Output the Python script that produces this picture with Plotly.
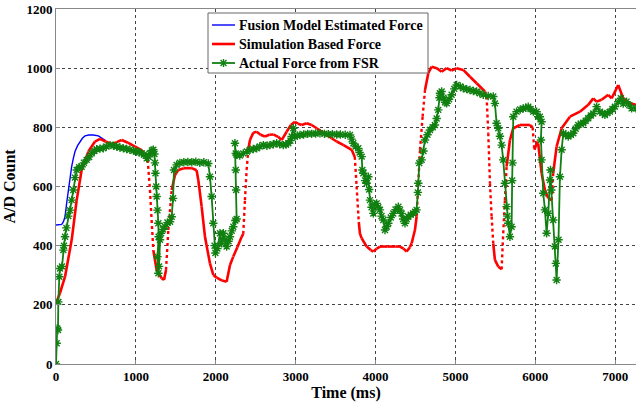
import plotly.graph_objects as go

# ---- data ----
fusion_t = [0, 40, 71, 92, 113, 134, 154, 175, 196, 217, 238, 270, 300, 330, 363, 410, 467, 530, 592, 620]
fusion_f = [470, 470, 472, 480, 498, 545, 588, 630, 667, 695, 718, 738, 752, 763, 771, 774, 774, 771, 760, 755]

sim_t = [0, 50, 113, 196, 259, 321, 405, 488, 551, 620, 697, 760, 822, 900, 989, 1072, 1148,
         1176, 1218, 1260, 1322, 1352, 1377, 1406, 1448, 1489, 1531, 1600, 1700, 1760, 1781, 1823,
         1865, 1927, 1969, 2011, 2080, 2136, 2178, 2219, 2270, 2324, 2344, 2365, 2386, 2407, 2428,
         2470, 2512, 2560, 2616, 2670, 2720, 2780, 2825, 2887, 2940, 2991, 3030, 3075, 3138, 3200,
         3263, 3330, 3388, 3450, 3513, 3600, 3701, 3740, 3763, 3790, 3805, 3826, 3889, 3940, 3972,
         4014, 4055, 4150, 4250, 4305, 4350, 4389, 4430, 4452, 4493, 4514, 4535, 4556, 4589, 4619,
         4660, 4702, 4765, 4827, 4890, 4952, 5015, 5098, 5182, 5265, 5369, 5390, 5411, 5432, 5453,
         5473, 5494, 5536, 5578, 5598, 5619, 5640, 5682, 5724, 5807, 5932, 5966, 5987, 6028, 6036,
         6078, 6120, 6162, 6203, 6224, 6266, 6329, 6433, 6558, 6662, 6725, 6767, 6829, 6913, 6955,
         7038, 7100, 7184, 7259]
sim_f = [205, 240, 295, 419, 554, 656, 718, 752, 761, 752, 743, 750, 757, 748, 735, 723, 690,
         588, 385, 318, 290, 284, 318, 453, 588, 639, 656, 662, 662, 655, 622, 532,
         430, 340, 301, 292, 282, 278, 335, 363, 395, 430, 440, 554, 656, 724, 757,
         782, 785, 775, 769, 775, 776, 768, 757, 785, 808, 819, 812, 808, 814, 808,
         797, 785, 774, 763, 752, 740, 724, 700, 600, 480, 440, 425, 397, 385, 380,
         390, 397, 397, 397, 397, 390, 380, 395, 408, 453, 498, 611, 724, 836, 926,
         983, 1005, 1000, 988, 1000, 992, 1000, 994, 971, 949, 921, 904, 780, 611, 498,
         408, 352, 329, 320, 442, 554, 667, 757, 797, 808, 808, 800, 724, 752, 745,
         645, 588, 560, 554, 645, 735, 797, 836, 853, 876, 898, 887, 893, 910, 898,
         943, 898, 881, 876]

fsr_t = [0, 8, 15, 25, 29, 42, 50, 75, 92, 100, 113, 130, 154, 175, 196, 217, 238, 259, 290, 321,
         350, 384, 415, 447, 480, 509, 550, 592, 630, 676, 720, 759, 800, 843, 885, 926, 970, 1010,
         1040, 1072, 1100, 1135, 1160, 1176, 1200, 1218, 1232, 1239, 1245, 1255, 1260, 1270, 1281,
         1285, 1270, 1281, 1290, 1302, 1315, 1340, 1364, 1395, 1427, 1448, 1465, 1477, 1510, 1550,
         1600, 1650, 1700, 1750, 1800, 1850, 1906, 1927, 1948, 1969, 1985, 1995, 2020, 2053, 2070,
         2095, 2115, 2136, 2160, 2178, 2200, 2219, 2245, 2261, 2255, 2250, 2240, 2250, 2261, 2300,
         2344, 2390, 2428, 2470, 2512, 2550, 2595, 2640, 2678, 2720, 2762, 2800, 2845, 2880, 2908,
         2935, 2950, 2970, 2991, 3020, 3054, 3100, 3150, 3200, 3250, 3304, 3360, 3410, 3460, 3513,
         3560, 3620, 3680, 3700, 3721, 3750, 3784, 3800, 3826, 3835, 3847, 3870, 3889, 3910, 3920,
         3930, 3950, 3972, 3990, 4014, 4035, 4055, 4075, 4097, 4118, 4140, 4160, 4190, 4222, 4250,
         4285, 4305, 4326, 4345, 4368, 4390, 4410, 4440, 4472, 4495, 4514, 4530, 4535, 4547, 4577,
         4600, 4619, 4650, 4681, 4715, 4743, 4765, 4785, 4800, 4806, 4827, 4850, 4870, 4890, 4920,
         4952, 4985, 5015, 5060, 5098, 5140, 5182, 5225, 5265, 5305, 5348, 5410, 5473, 5494, 5515,
         5536, 5557, 5578, 5598, 5619, 5640, 5650, 5661, 5682, 5703, 5710, 5715, 5724, 5765, 5810,
         5849, 5880, 5911, 5940, 5974, 6016, 6036, 6057, 6078, 6070, 6078, 6099, 6120, 6141, 6162,
         6183, 6190, 6200, 6224, 6245, 6257, 6266, 6290, 6308, 6329, 6350, 6380, 6412, 6445, 6475,
         6505, 6537, 6570, 6600, 6630, 6662, 6695, 6725, 6767, 6808, 6840, 6871, 6900, 6934, 6965,
         6996, 7038, 7071, 7100, 7142, 7175, 7205, 7259]
fsr_f = [0, 70, 120, 115, 210, 295, 323, 330, 385, 400, 430, 460, 500, 520, 554, 588, 630, 656, 665, 667,
         680, 690, 700, 712, 720, 726, 728, 729, 735, 740, 738, 735, 732, 729, 727, 724, 721, 718,
         716, 712, 708, 695, 700, 712, 722, 724, 710, 680, 645, 600, 566, 520, 476,
         430, 363, 307, 330, 420, 442, 455, 465, 478, 481, 498, 560, 656, 673, 680,
         682, 683, 682, 684, 680, 682, 678, 633, 566, 476, 400, 375, 390, 442, 408,
         442, 420, 397, 415, 430, 450, 464, 485, 490, 588, 656, 746, 712, 707, 705,
         712, 718, 724, 727, 729, 735, 740, 738, 740, 743, 746, 743, 740, 742, 746,
         755, 769, 797, 769, 772, 774, 776, 778, 778, 779, 780, 778, 777, 777, 776,
         776, 775, 774, 760, 746, 735, 729, 715, 701, 656, 645, 620, 611, 633, 590,
         554, 530, 509, 540, 543, 530, 521, 500, 487, 453, 465, 476, 495, 509, 522,
         532, 520, 509, 490, 476, 490, 498, 505, 509, 515, 521, 580, 611, 679, 690,
         720, 757, 775, 791, 800, 808, 830, 859, 900, 915, 921, 900, 885, 881, 895,
         910, 930, 943, 938, 932, 929, 926, 923, 921, 915, 910, 906, 904, 881, 814,
         797, 770, 740, 690, 611, 532, 500, 476, 430, 464, 620, 680, 836, 853, 860,
         864, 866, 870, 862, 853, 853, 836, 836, 819, 757, 690, 577, 521, 442, 509,
         622, 656, 588, 487, 397, 340, 284, 420, 633, 724, 780, 775, 769, 775, 780,
         795, 808, 812, 814, 822, 831, 840, 847, 870, 853, 848, 842, 848, 853, 862,
         870, 887, 898, 880, 887, 875, 864, 864]

series_names = ["Fusion Model Estimated Force", "Simulation Based Force", "Actual Force from FSR"]
x_ticks = [0, 1000, 2000, 3000, 4000, 5000, 6000, 7000]
y_ticks = [0, 200, 400, 600, 800, 1000, 1200]

SERIF = "Liberation Serif"
RED, BLUE, GREEN = "#ff0000", "#0000ff", "#108010"
X_MAX, Y_MAX = 7260, 1200
W, H = 636, 407
ML, MR, MT, MB = 56, 0, 9, 43
PW, PH = W - ML - MR, H - MT - MB

# split the simulation curve: steep stretches were sampled sparsely (dotted look)
solid_x, solid_y, dot_x, dot_y = [], [], [], []
for i in range(len(sim_t) - 1):
    dxp = (sim_t[i + 1] - sim_t[i]) * PW / X_MAX
    dyp = abs(sim_f[i + 1] - sim_f[i]) * PH / Y_MAX
    steep = dyp > 10 * max(dxp, 1e-6)
    tx, ty = (dot_x, dot_y) if steep else (solid_x, solid_y)
    tx += [sim_t[i], sim_t[i + 1], None]
    ty += [sim_f[i], sim_f[i + 1], None]

fig = go.Figure()
fig.add_trace(go.Scatter(x=fusion_t, y=fusion_f, mode="lines", name=series_names[0],
                         showlegend=False, line=dict(color=BLUE, width=1.4)))
fig.add_trace(go.Scatter(x=dot_x, y=dot_y, mode="lines", name=series_names[1],
                         showlegend=False, line=dict(color=RED, width=2.4, dash="dot")))
fig.add_trace(go.Scatter(x=solid_x, y=solid_y, mode="lines", name=series_names[1],
                         showlegend=False, line=dict(color=RED, width=2.6)))
fig.add_trace(go.Scatter(x=fsr_t, y=fsr_f, mode="lines+markers", name=series_names[2],
                         showlegend=False,
                         line=dict(color=GREEN, width=1.8),
                         marker=dict(symbol="asterisk-open", size=7, color=GREEN,
                                     line=dict(color=GREEN, width=1.4))))

axis_common = dict(showline=True, linecolor="#888888", linewidth=1, mirror=True,
                   showgrid=True, gridcolor="#444444", griddash="dot", gridwidth=1,
                   zeroline=False, ticks="inside", ticklen=4, tickcolor="#888888",
                   tickfont=dict(family=SERIF, size=13, color="black", weight="bold"))

fig.update_xaxes(range=[0, X_MAX], tickvals=x_ticks, ticktext=[str(v) for v in x_ticks],
                 title=dict(text="Time (ms)", font=dict(family=SERIF, size=16, color="black", weight="bold"),
                            standoff=4),
                 **axis_common)
fig.update_yaxes(range=[0, Y_MAX], tickvals=y_ticks, ticktext=[str(v) for v in y_ticks],
                 title=dict(text="A/D Count", font=dict(family=SERIF, size=16, color="black", weight="bold"),
                            standoff=6),
                 **axis_common)

# ---- legend box drawn in paper coordinates (MATLAB-style) ----
def px(xp):
    return (xp - ML) / PW

def py(yp):
    return (H - MB - yp) / PH

shapes = [dict(type="rect", xref="paper", yref="paper", x0=px(208), x1=px(428), y0=py(73), y1=py(13),
               fillcolor="white", line=dict(color="#666666", width=1), layer="above")]
rows = [25, 44, 63]
styles = [(BLUE, 1.4), (RED, 2.6), (GREEN, 1.8)]
annotations = []
for name, ry, (col, lw) in zip(series_names, rows, styles):
    shapes.append(dict(type="line", xref="paper", yref="paper", x0=px(212), x1=px(235),
                       y0=py(ry), y1=py(ry), line=dict(color=col, width=lw), layer="above"))
    annotations.append(dict(xref="paper", yref="paper", x=px(237), y=py(ry + 0.5), xanchor="left",
                            yanchor="middle", showarrow=False, text=name,
                            font=dict(family=SERIF, size=14, color="black", weight="bold")))
# asterisk marker on the FSR legend sample
cx, cy = 223.5, rows[2]
for (dx, dy) in [(0, 4), (3, 3), (-3, 3)]:
    shapes.append(dict(type="line", xref="paper", yref="paper", x0=px(cx - dx), x1=px(cx + dx),
                       y0=py(cy - dy), y1=py(cy + dy), line=dict(color=GREEN, width=1.4), layer="above"))

fig.update_layout(
    width=W, height=H,
    margin=dict(l=ML, r=MR, t=MT, b=MB),
    plot_bgcolor="white", paper_bgcolor="white",
    showlegend=False,
    shapes=shapes, annotations=annotations,
)

fig.write_html("out.html")
